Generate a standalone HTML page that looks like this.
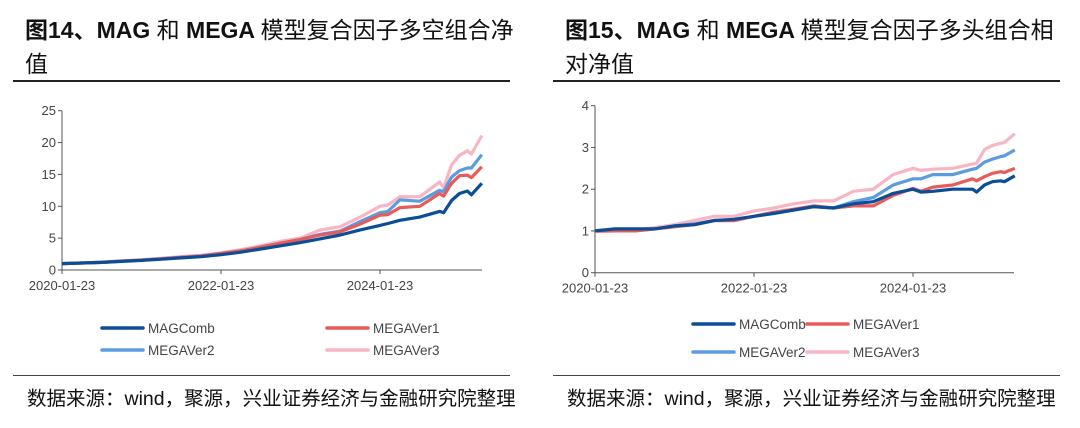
<!DOCTYPE html>
<html><head><meta charset="utf-8">
<style>
body{margin:0;width:1080px;height:428px;background:#fff;overflow:hidden;font-family:"Liberation Sans","Noto Sans CJK SC",sans-serif;}
.title{position:absolute;font-size:23px;line-height:34px;color:#111;font-weight:bold;white-space:nowrap;}
.title span{font-weight:normal;}
.src{position:absolute;top:382px;font-size:19.5px;color:#111;white-space:nowrap;}
.rule{position:absolute;height:2px;background:#222;}
.brule{position:absolute;height:1px;background:#444;}
svg{position:absolute;left:0;top:0;}
</style></head><body>
<div class="title" style="left:25px;top:13px;">图14、MAG <span>和</span> MEGA <span>模型复合因子多空组合净<br>值</span></div>
<div class="rule" style="left:13px;top:80px;width:497px;"></div>
<div class="title" style="left:565px;top:13px;">图15、MAG <span>和</span> MEGA <span>模型复合因子多头组合相<br>对净值</span></div>
<div class="rule" style="left:553px;top:80px;width:507px;"></div>
<div class="brule" style="left:13px;top:375px;width:497px;"></div>
<div class="brule" style="left:553px;top:375px;width:507px;"></div>
<div class="src" style="left:27px;">数据来源：wind，聚源，兴业证券经济与金融研究院整理</div>
<div class="src" style="left:567px;">数据来源：wind，聚源，兴业证券经济与金融研究院整理</div>
<svg id="chart" width="1080" height="428"></svg>
<script>
const times=[0,.25,.5,.75,1,1.25,1.5,1.75,2,2.25,2.5,2.75,3,3.25,3.5,3.75,4,4.1,4.25,4.5,4.75,4.8,4.9,5.0,5.1,5.15,5.28];
const xTickLabels=["2020-01-23","2022-01-23","2024-01-23"];
const xTickYears=[0,2,4];
const seriesNames=["MAGComb","MEGAVer1","MEGAVer2","MEGAVer3"];
const leftMAG=[1,1.1,1.2,1.35,1.5,1.7,1.9,2.1,2.4,2.8,3.3,3.8,4.3,4.9,5.5,6.3,7.0,7.3,7.8,8.3,9.2,9.0,10.9,12.0,12.4,11.8,13.6];
const leftV1=[1,1.1,1.2,1.4,1.55,1.75,2.0,2.2,2.6,3.0,3.6,4.2,4.8,5.5,6.0,7.2,8.6,8.7,9.8,10.0,12.0,11.6,13.6,14.8,14.9,14.5,16.2];
const leftV2=[1,1.1,1.2,1.4,1.55,1.75,2.0,2.2,2.6,3.0,3.6,4.2,4.8,5.6,6.1,7.6,9.0,9.2,11.0,10.8,12.5,12.3,14.6,15.6,16.0,16.0,18.1];
const leftV3=[1,1.1,1.25,1.45,1.6,1.85,2.1,2.3,2.7,3.2,3.8,4.5,5.0,6.3,6.8,8.3,10.0,10.2,11.5,11.5,13.8,12.9,16.5,18.0,18.7,18.2,21.1];
const leftYTicks=[0,5,10,15,20,25];
const rightMAG=[1.0,1.05,1.05,1.05,1.12,1.15,1.25,1.28,1.35,1.42,1.5,1.58,1.55,1.65,1.7,1.9,2.0,1.93,1.95,2.0,2.0,1.93,2.1,2.18,2.2,2.18,2.32];
const rightV1=[1.0,1.0,1.0,1.05,1.1,1.15,1.25,1.25,1.35,1.45,1.52,1.6,1.55,1.6,1.6,1.85,2.02,1.95,2.05,2.1,2.25,2.2,2.3,2.38,2.42,2.4,2.5];
const rightV2=[1.0,1.0,1.0,1.05,1.12,1.17,1.25,1.25,1.35,1.42,1.5,1.58,1.55,1.7,1.8,2.1,2.25,2.25,2.35,2.35,2.48,2.5,2.65,2.72,2.78,2.8,2.94];
const rightV3=[0.98,1.0,1.02,1.08,1.15,1.25,1.35,1.35,1.48,1.55,1.65,1.72,1.72,1.95,2.0,2.35,2.5,2.45,2.48,2.5,2.6,2.62,2.95,3.05,3.1,3.12,3.33];
const rightYTicks=[0,1,2,3,4];
const colors=["#0b4d96","#e85b5b","#5b9be0","#f8b5c3"];
const NS="http://www.w3.org/2000/svg";
const svg=document.getElementById('chart');
function mk(tag,attrs,parent){const e=document.createElementNS(NS,tag);for(const k in attrs)e.setAttribute(k,attrs[k]);(parent||svg).appendChild(e);return e;}
function drawChart(p){
  const g=mk('g',{});
  
  
  const xs=t=>p.x0+(t/2)*p.x2y;
  const ys=v=>p.y0-(v/p.ymax)*(p.y0-p.ytop);
  const axis=mk('path',{d:`M${p.x0},${p.ytop} V${p.y0} H${p.xend}`,stroke:'#555',fill:'none','stroke-width':1},g);
  
  
  p.yTicks.forEach(v=>{
    mk('line',{x1:p.x0-4,x2:p.x0,y1:ys(v),y2:ys(v),stroke:'#555'},g);
    const t=mk('text',{x:p.x0-6,y:ys(v)+4.5,'text-anchor':'end','font-size':13,fill:'#444'},g);
    
    
    t.textContent=v;
  });
  xTickYears.forEach((yr,i)=>{
    const x=xs(yr);
    mk('line',{x1:x,x2:x,y1:p.y0,y2:p.y0+4,stroke:'#555'},g);
    const t=mk('text',{x:x,y:p.y0+20,'text-anchor':'middle','font-size':13,fill:'#444'},g);
    
    
    t.textContent=xTickLabels[i];
  });
  [3,2,1,0].forEach(si=>{
    const d=times.map((t,i)=>(i?'L':'M')+xs(t).toFixed(1)+','+ys(p.series[si][i]).toFixed(1)).join(' ');
    const l=mk('path',{d:d,stroke:colors[si],fill:'none','stroke-width':3.2,'stroke-linejoin':'round'},g);
    
    
  });
  p.legend.forEach((pos,si)=>{
    const lg=mk('g',{},g);
    
    
    mk('line',{x1:pos[0],x2:pos[0]+41,y1:pos[1],y2:pos[1],stroke:colors[si],'stroke-width':3.5,'stroke-linecap':'round'},lg);
    const t=mk('text',{x:pos[0]+46,y:pos[1]+5,'font-size':13.5,fill:'#444'},lg);
    t.textContent=seriesNames[si];
  });
}
drawChart({name:'left-chart',x0:62,xend:482,x2y:159,y0:270,ytop:110.7,ymax:25,yTicks:leftYTicks,
  series:[leftMAG,leftV1,leftV2,leftV3],legend:[[102,328],[327,328],[102,350],[327,350]]});
drawChart({name:'right-chart',x0:595,xend:1014,x2y:159,y0:272.7,ytop:105.7,ymax:4,yTicks:rightYTicks,
  series:[rightMAG,rightV1,rightV2,rightV3],legend:[[693,324],[807,324],[693,352],[807,352]]});
</script>
</body></html>
